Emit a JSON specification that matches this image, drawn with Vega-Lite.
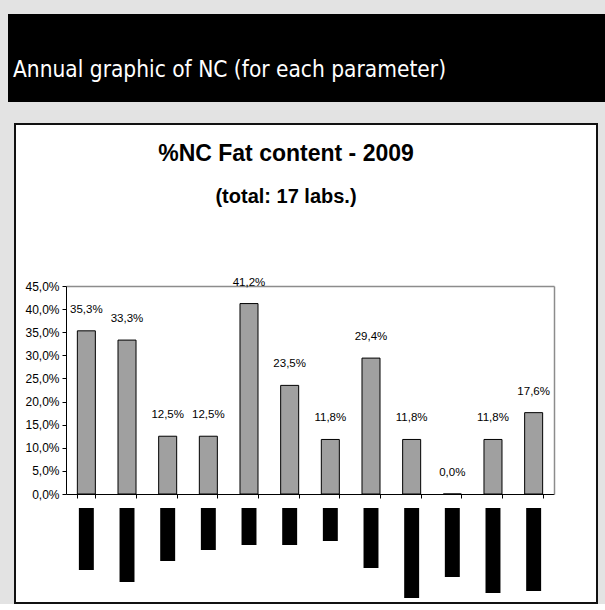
{
  "$schema": "https://vega.github.io/schema/vega-lite/v6.json",
  "background": "#e3e3e3",
  "padding": {"left": 8, "top": 14, "right": 0, "bottom": 0},
  "center": true,
  "spacing": 21,
  "config": {
    "locale": {"number": {"decimal": ",", "thousands": ".", "grouping": [3], "currency": ["", " €"]}},
    "view": {"stroke": null}
  },
  "datasets": {
    "nc": [
      {"cat": "1", "pct": 0.353, "labelLength": 62},
      {"cat": "2", "pct": 0.333, "labelLength": 74},
      {"cat": "3", "pct": 0.125, "labelLength": 53},
      {"cat": "4", "pct": 0.125, "labelLength": 42},
      {"cat": "5", "pct": 0.412, "labelLength": 37},
      {"cat": "6", "pct": 0.235, "labelLength": 37},
      {"cat": "7", "pct": 0.118, "labelLength": 33},
      {"cat": "8", "pct": 0.294, "labelLength": 60},
      {"cat": "9", "pct": 0.118, "labelLength": 90},
      {"cat": "10", "pct": 0.0, "labelLength": 69},
      {"cat": "11", "pct": 0.118, "labelLength": 85},
      {"cat": "12", "pct": 0.176, "labelLength": 83}
    ]
  },
  "vconcat": [
    {
      "width": 597,
      "height": 88,
      "view": {"fill": "black", "stroke": null},
      "title": {
        "text": "Annual graphic of NC (for each parameter)",
        "orient": "top",
        "anchor": "start",
        "frame": "group",
        "offset": -85,
        "dx": 5,
        "color": "white",
        "font": "DejaVu Sans Condensed, DejaVu Sans",
        "fontSize": 22.5,
        "fontWeight": "normal",
        "baseline": "alphabetic"
      },
      "data": {"values": [{"t": ""}]},
      "mark": "text",
      "encoding": {"text": {"field": "t"}}
    },
    {
      "width": 582,
      "height": 479,
      "view": {"fill": "white", "stroke": "#111111", "strokeWidth": 2},
      "title": {
        "text": "%NC Fat content - 2009",
        "subtitle": "(total: 17 labs.)",
        "orient": "top",
        "anchor": "middle",
        "frame": "group",
        "offset": -101,
        "dx": -20,
        "color": "black",
        "font": "Liberation Sans",
        "fontSize": 23,
        "fontWeight": "bold",
        "subtitleColor": "black",
        "subtitleFont": "Liberation Sans",
        "subtitleFontSize": 20,
        "subtitleFontWeight": "bold",
        "subtitlePadding": 19,
        "baseline": "alphabetic"
      },
      "data": {"name": "nc"},
      "layer": [
        {
          "mark": {"type": "bar", "fill": "#a0a0a0", "stroke": "black", "strokeWidth": 1},
          "encoding": {
            "x": {
              "field": "cat", "type": "ordinal", "sort": null,
              "scale": {"range": [51, 539], "paddingInner": 0.557, "paddingOuter": 0.279},
              "axis": {"orient": "bottom", "offset": -109, "labels": false, "title": null, "domainColor": "black", "tickColor": "black", "tickSize": 4, "tickBand": "extent", "grid": false}
            },
            "y": {
              "field": "pct", "type": "quantitative",
              "scale": {"domain": [0, 0.45], "range": [370, 162], "nice": false, "zero": true},
              "axis": {"orient": "left", "offset": -51, "values": [0, 0.05, 0.1, 0.15, 0.2, 0.25, 0.3, 0.35, 0.4, 0.45], "format": ".1%", "grid": false, "title": null, "domainColor": "black", "tickColor": "black", "tickSize": 4, "labelFont": "Liberation Sans", "labelFontSize": 12, "labelColor": "black", "labelPadding": 3, "labelOverlap": false, "labelFlush": false}
            }
          }
        },
        {
          "mark": {"type": "text", "dy": -21, "baseline": "middle", "font": "Liberation Sans", "fontSize": 11.5, "fill": "black"},
          "encoding": {
            "x": {
              "field": "cat", "type": "ordinal", "sort": null,
              "axis": {"orient": "top", "offset": -162, "labels": false, "ticks": false, "title": null, "domainColor": "#8c8c8c", "domainWidth": 1.5, "grid": false}
            },
            "y": {
              "field": "pct", "type": "quantitative",
              "scale": {"domain": [0, 0.45], "range": [370, 162], "nice": false, "zero": true},
              "axis": {"orient": "right", "offset": -43, "labels": false, "ticks": false, "grid": false, "title": null, "domainColor": "#8c8c8c", "domainWidth": 1.5}
            },
            "text": {"field": "pct", "type": "quantitative", "format": ".1%"}
          }
        },
        {
          "mark": {"type": "bar", "fill": "black", "width": {"band": 0.83}},
          "encoding": {
            "x": {"field": "cat", "type": "ordinal", "sort": null, "axis": null},
            "y": {
              "field": "labelLength", "type": "quantitative",
              "scale": {"domain": [0, 100], "range": [384, 484], "nice": false, "zero": true},
              "axis": null
            }
          }
        }
      ],
      "resolve": {"scale": {"y": "independent"}, "axis": {"x": "independent", "y": "independent"}}
    }
  ]
}
